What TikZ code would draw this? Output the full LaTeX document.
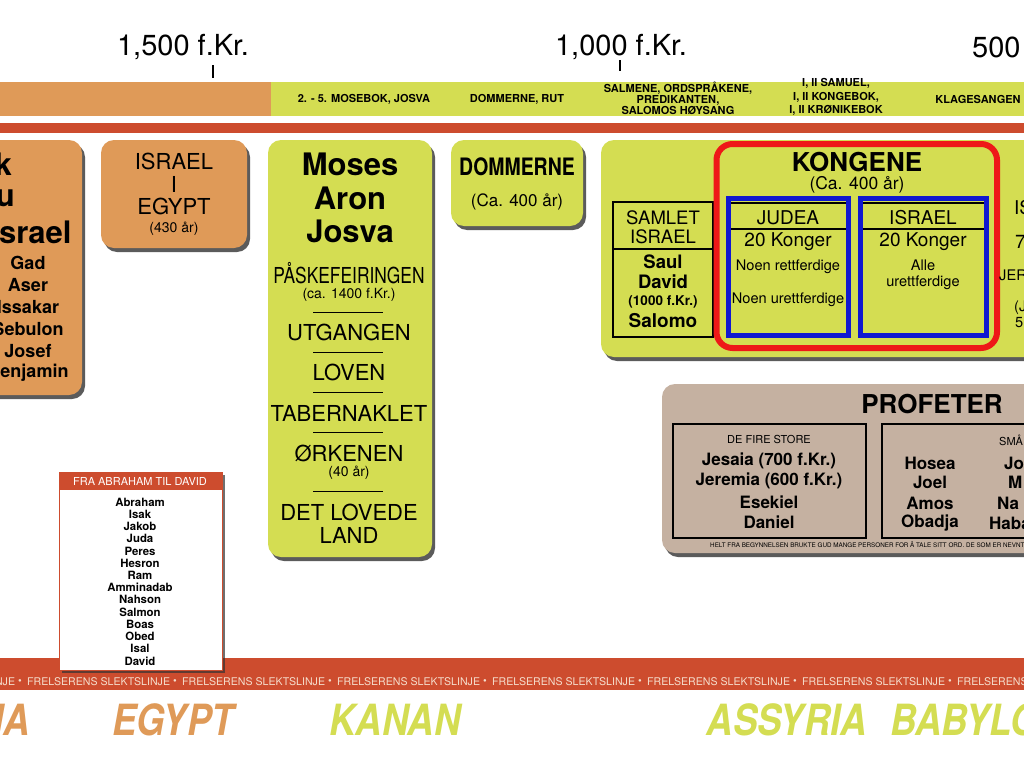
\documentclass[tikz,border=0pt]{standalone}
\usepackage{fontspec}
\setmainfont{TeX Gyre Heros}
\usepackage{graphicx}
\usetikzlibrary{shadows, positioning}
\definecolor{egyorange}{RGB}{223,154,88}
\definecolor{kanlime}{RGB}{212,221,82}
\definecolor{linjered}{RGB}{205,76,46}
\definecolor{proftaupe}{RGB}{197,177,161}
\definecolor{kongred}{RGB}{238,24,24}
\definecolor{rikeblue}{RGB}{16,24,208}
\definecolor{linjetext}{RGB}{245,222,205}
\newcommand{\fsz}[1]{\fontsize{#1}{\fpeval{1.15*#1}}\selectfont}
\newcommand{\fszb}[2]{\fontsize{#2}{\fpeval{#1*#2}}\selectfont}
\newcommand{\cond}[2]{\scalebox{#1}[1]{#2}}

\begin{document}
\begin{tikzpicture}[x=1pt, y=-1pt,
    every node/.style={inner sep=0pt, align=center},
    epoch/.style={rounded corners=13pt, drop shadow={shadow xshift=3pt, shadow yshift=-4pt, opacity=.8, fill=black!80}},
    cell/.style={draw=black, line width=1.2pt},
    barlbl/.style={font=\fszb{1.02}{11}\bfseries},
    yearlbl/.style={font=\fsz{29}},
    bigname/.style={font=\fsz{31}\bfseries},
    tribe/.style={font=\fsz{18}\bfseries},
    caps/.style={font=\fsz{22}},
    note/.style={font=\fsz{14}},
    mid/.style={font=\fsz{19}},
    boldmid/.style={font=\fsz{18.5}\bfseries},
    small/.style={font=\fsz{14.6}},
    prophet/.style={font=\fsz{17}\bfseries},
    ancestor/.style={font=\fsz{11.4}\bfseries},
    slekt/.style={font=\fsz{10.6}, text=linjetext},
    land/.style={font=\fsz{43}\bfseries\itshape},
]
\useasboundingbox (0,0) rectangle (1024,768);
\fill[white] (0,0) rectangle (1024,768);
\clip (0,0) rectangle (1024,768);

% tidslinje
\node[yearlbl] (y1500) at (183,47) {1,500 f.Kr.};
\node[yearlbl] (y1000) at (621,47) {1,000 f.Kr.};
\node[yearlbl, anchor=west] (y500) at (972,47) {500 f.Kr.};
\draw[line width=1.3pt] (213,65) -- (213,78);
\draw[line width=1.3pt] (620,60) -- (620,71);

\fill[egyorange] (0,82) rectangle (271,116);
\fill[kanlime] (271,82) rectangle (1024,116);
\node[barlbl] (bok1) at (364,99) {2. - 5. MOSEBOK, JOSVA};
\node[barlbl] (bok2) at (517,99) {DOMMERNE, RUT};
\node[barlbl] (bok3) at (678,98) {SALMENE, ORDSPRÅKENE,\\PREDIKANTEN,\\SALOMOS HØYSANG};
\node[barlbl, font=\fszb{1.22}{11}\bfseries] (bok4) at (836,97) {I, II SAMUEL,\\I, II KONGEBOK,\\I, II KRØNIKEBOK};
\node[barlbl] (bok5) at (978,99) {KLAGESANGEN};

\fill[linjered] (0,123) rectangle (1024,133);

% patriarkene
\path[epoch, fill=egyorange] (-30,140) rectangle (82,395);
\node[bigname, anchor=east] (pk) at (12,164) {k};
\node[bigname, anchor=east] (pu) at (15,198) {u};
\node[bigname] (pisrael) at (31,232) {Israel};
\foreach \nm/\yy in {Gad/263, Aser/285, Issakar/307, Sebulon/329, Josef/351, Benjamin/373}
  \node[tribe] (stamme-\nm) at (28,\yy) {\nm};

% Israel i Egypt
\path[epoch, fill=egyorange] (101,140) rectangle (247,248);
\node[caps] (ie1) at (174,161) {ISRAEL};
\node[caps] (ie2) at (174,184) {I};
\node[caps] (ie3) at (174,206) {EGYPT};
\node[note] (ie4) at (174,229) {(430 år)};

% Moses
\path[epoch, fill=kanlime] (268,140) rectangle (432,557);
\node[bigname] (moses) at (350,164) {Moses};
\node[bigname] (aron) at (350,198) {Aron};
\node[bigname] (josva) at (350,231) {Josva};
\node[caps] (paske) at (349,273) {\cond{.79}{PÅSKEFEIRINGEN}};
\node[note] (paskeaar) at (349,295) {(ca. 1400 f.Kr.)};
\node[caps] (utgang) at (349,332) {UTGANGEN};
\node[caps] (loven) at (349,372) {LOVEN};
\node[caps] (tabern) at (349,413) {TABERNAKLET};
\node[caps] (orken) at (349,453) {ØRKENEN};
\node[note] (orkenaar) at (349,473) {(40 år)};
\node[caps] (land1) at (349,512) {DET LOVEDE};
\node[caps] (land2) at (349,535) {LAND};
\foreach \yy in {312,352,392,432,491}
  \draw[line width=1pt] (313,\yy) -- (383,\yy);

% dommerne
\path[epoch, fill=kanlime] (451,140) rectangle (583,226);
\node[font=\fsz{24}\bfseries] (dommer) at (517,167) {\cond{.81}{DOMMERNE}};
\node[font=\fsz{17}] (dommeraar) at (517,202) {(Ca. 400 år)};

% kongene
\path[epoch, fill=kanlime] (601,140) rectangle (1060,357);
\draw[cell] (613,202) rectangle (713,337);
\draw[cell] (613,249) -- (713,249);
\node[font=\fszb{1.05}{18.5}] (samlet) at (663,227) {SAMLET\\ISRAEL};
\node[boldmid] (saul) at (663,262) {Saul};
\node[boldmid] (david) at (663,282) {David};
\node[font=\fsz{13.5}\bfseries] (davidaar) at (663,302) {(1000 f.Kr.)};
\node[font=\fsz{19}\bfseries] (salomo) at (663,321) {Salomo};

\draw[cell] (729,203) rectangle (848,334);
\draw[cell] (729,229) -- (848,229);
\draw[cell] (860,203) rectangle (987,334);
\draw[cell] (860,229) -- (987,229);
\draw[rikeblue, line width=5pt] (728.5,198.5) rectangle (848.5,335.5);
\draw[rikeblue, line width=5pt] (860.5,198.5) rectangle (986.5,335.5);
\draw[kongred, line width=6pt, rounded corners=16pt] (716.5,144) rectangle (997,348);

\node[font=\fsz{26}\bfseries] (kongene) at (857,162) {KONGENE};
\node[font=\fsz{17.5}] (kongaar) at (857,185) {(Ca. 400 år)};
\node[mid] (judea) at (788,218) {JUDEA};
\node[mid] (judeak) at (788,242) {20 Konger};
\node[small] (judear) at (788,267) {Noen rettferdige};
\node[small] (judeau) at (788,300) {Noen urettferdige};
\node[mid] (israel) at (923,218) {ISRAEL};
\node[mid] (israelk) at (923,242) {20 Konger};
\node[font=\fszb{1.1}{14.6}] (israelu) at (923,275) {Alle\\urettferdige};
\node[mid, anchor=west] (kant1) at (1014,208) {IS};
\node[mid, anchor=west] (kant2) at (1015,242) {7};
\node[small, anchor=west] (kant3) at (999,275) {JER};
\node[small, anchor=west] (kant4) at (1014,308) {(J};
\node[small, anchor=west] (kant5) at (1015,323) {5};

% profeter
\path[epoch, fill=proftaupe] (662,384) rectangle (1060,553);
\node[font=\fsz{26}\bfseries] (profeter) at (932,404) {PROFETER};
\draw[cell] (673,424) rectangle (866,538);
\draw[cell] (882,424) rectangle (1060,538);
\node[font=\fsz{11}] (store) at (769,439) {DE FIRE STORE};
\node[prophet] (jesaia) at (769,461) {Jesaia (700 f.Kr.)};
\node[prophet] (jeremia) at (769,481) {Jeremia (600 f.Kr.)};
\node[prophet] (esekiel) at (769,502) {Esekiel};
\node[prophet] (daniel) at (769,522) {Daniel};
\node[font=\fsz{11}, anchor=west] (smaa) at (999,440) {SMÅ};
\node[prophet] (hosea) at (930,463) {Hosea};
\node[prophet] (joel) at (930,482) {Joel};
\node[prophet] (amos) at (930,503) {Amos};
\node[prophet] (obadja) at (930,523) {Obadja};
\node[prophet, anchor=west] (sm1) at (1004,463) {Jo};
\node[prophet, anchor=west] (sm2) at (1008,482) {M};
\node[prophet, anchor=west] (sm3) at (997,503) {Na};
\node[prophet, anchor=west] (sm4) at (989,523) {Haba};
\node[font=\fsz{6.3}, anchor=west] (proffot) at (710,545) {HELT FRA BEGYNNELSEN BRUKTE GUD MANGE PERSONER FOR Å TALE SITT ORD. DE SOM ER NEVNT HER ER};

% frelserens slektslinje
\fill[linjered] (0,658) rectangle (1024,690);
\foreach \k in {-1,...,6} {
  \node[slekt, anchor=west] (slekt\k) at (27+155*\k,682) {FRELSERENS SLEKTSLINJE};
  \node[slekt] (prikk\k) at (175+155*\k,682) {\textbullet};
}

\path[fill=white, draw=linjered, line width=1pt, drop shadow={shadow xshift=3pt, shadow yshift=-3pt, opacity=.7, fill=black!80}] (59,472) rectangle (222,670);
\fill[linjered] (59,472) rectangle (222,490);
\node[font=\fsz{11}, text=white] (abrhdr) at (140,481) {FRA ABRAHAM TIL DAVID};
\foreach \nm [count=\i from 0] in {Abraham,Isak,Jakob,Juda,Peres,Hesron,Ram,Amminadab,Nahson,Salmon,Boas,Obed,Isal,David}
  \node[ancestor] (anc\i) at (140,502+12.23*\i) {\nm};

% land
\node[land, text=egyorange, anchor=east] (mesop) at (30,720) {\cond{.85}{IA}};
\node[land, text=egyorange] (egypt) at (173,720) {\cond{.85}{EGYPT}};
\node[land, text=kanlime] (kanan) at (395,720) {\cond{.85}{KANAN}};
\node[land, text=kanlime] (assyria) at (787,720) {\cond{.85}{ASSYRIA}};
\node[land, text=kanlime, anchor=west] (babylon) at (890,720) {\cond{.85}{BABYLON}};
\end{tikzpicture}
\end{document}
